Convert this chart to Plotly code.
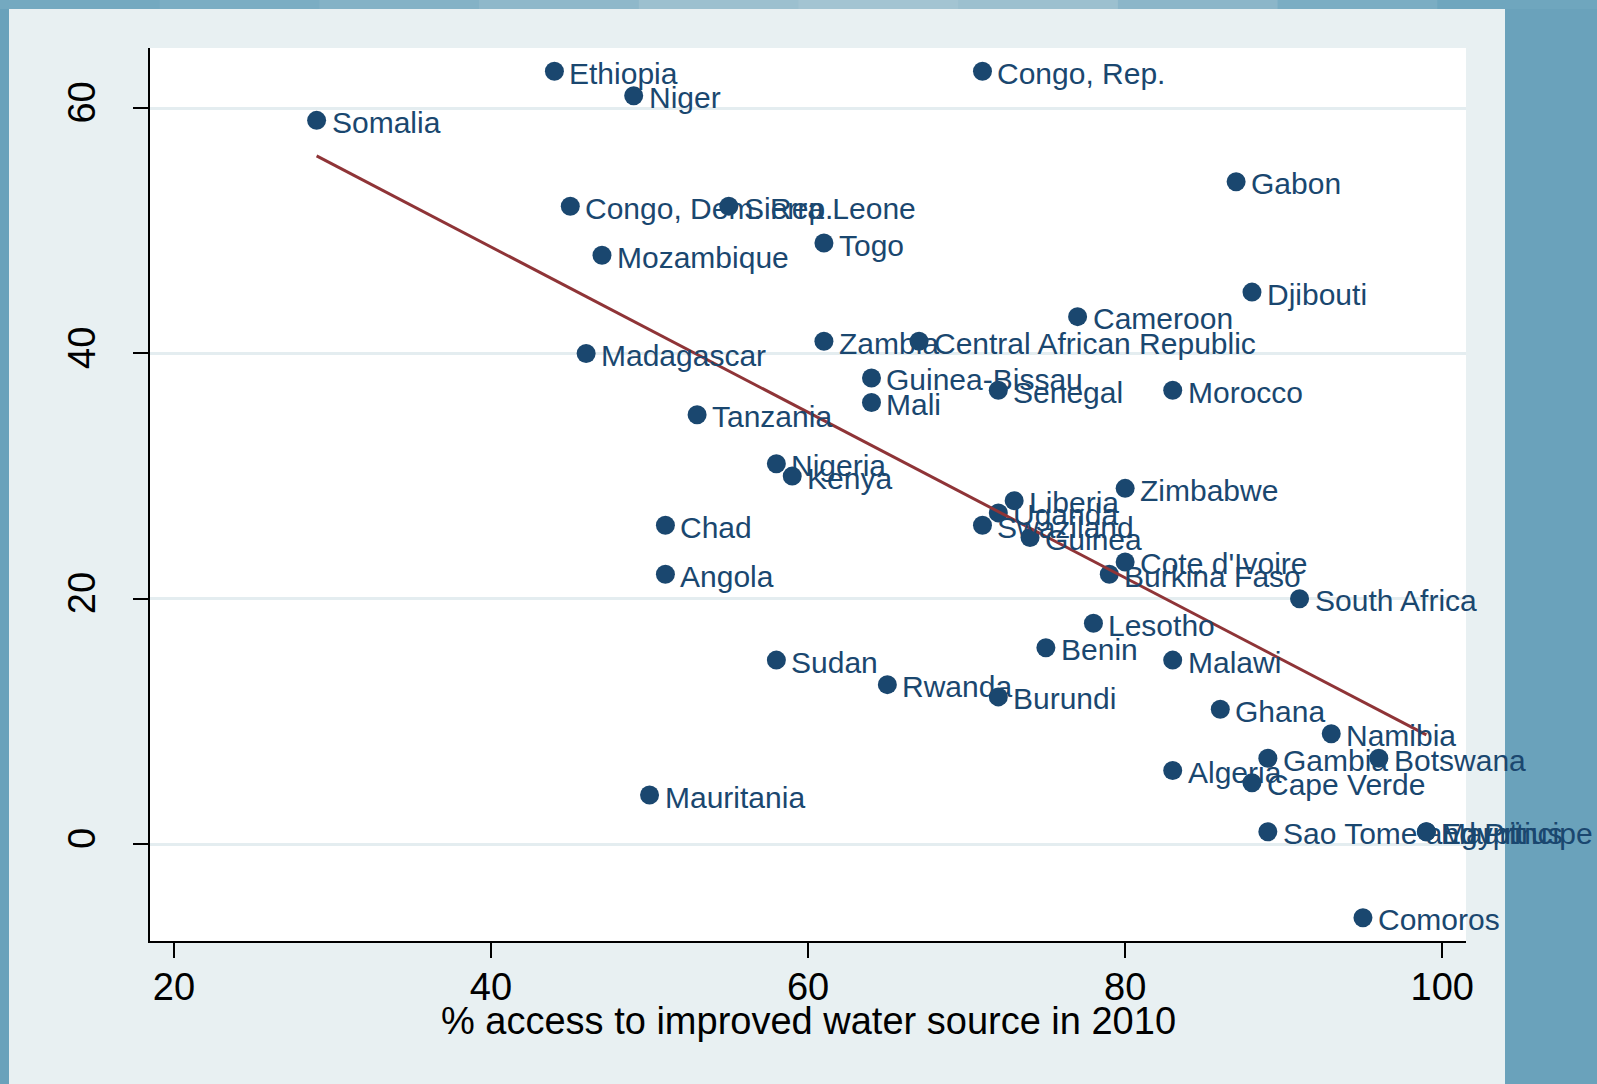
import plotly.graph_objects as go

# ---- data ----
countries = ["Ethiopia", "Congo, Rep.", "Niger", "Somalia", "Gabon", "Congo, Dem. Rep.",
             "Sierra Leone", "Togo", "Mozambique", "Djibouti", "Cameroon", "Zambia",
             "Central African Republic", "Madagascar", "Guinea-Bissau", "Senegal", "Morocco",
             "Mali", "Tanzania", "Nigeria", "Kenya", "Zimbabwe", "Liberia", "Uganda", "Chad",
             "Swaziland", "Guinea", "Cote d'Ivoire", "Angola", "Burkina Faso", "South Africa",
             "Lesotho", "Benin", "Sudan", "Malawi", "Rwanda", "Burundi", "Ghana", "Namibia",
             "Gambia", "Botswana", "Algeria", "Cape Verde", "Mauritania",
             "Sao Tome and Principe", "Egypt", "Mauritius", "Comoros"]
water_access = [44, 71, 49, 29, 87, 45,
                55, 61, 47, 88, 77, 61,
                67, 46, 64, 72, 83,
                64, 53, 58, 59, 80, 73, 72, 51,
                71, 74, 80, 51, 79, 91,
                78, 75, 58, 83, 65, 72, 86, 93,
                89, 96, 83, 88, 50,
                89, 99, 99, 95]
y_values = [63, 63, 61, 59, 54, 52,
            52, 49, 48, 45, 43, 41,
            41, 40, 38, 37, 37,
            36, 35, 31, 30, 29, 28, 27, 26,
            26, 25, 23, 22, 22, 20,
            18, 16, 15, 15, 13, 12, 11, 9,
            7, 7, 6, 5, 4,
            1, 1, 1, -6]

fit_x = [29, 99]
fit_y = [56.1, 8.9]

x_ticks = [20, 40, 60, 80, 100]
y_ticks = [0, 20, 40, 60]
x_title = "% access to improved water source in 2010"

# ---- styling ----
W, H = 1597, 1084
L, R, T, B = 150, 131, 48, 143
PW, PH = W - L - R, H - T - B

navy = "#1a476f"
font = "Liberation Sans, Arial, Helvetica, sans-serif"


def px_x(p):
    return (p - L) / PW


def px_y(p):
    return (H - B - p) / PH


fig = go.Figure()
# markers
fig.add_trace(go.Scatter(
    x=water_access, y=y_values, text=countries, mode="markers",
    cliponaxis=False, marker=dict(size=19, color=navy),
    showlegend=False, hoverinfo="x+y+text",
))
# fitted line
fig.add_trace(go.Scatter(
    x=fit_x, y=fit_y, mode="lines",
    line=dict(color="#8f3437", width=3),
    showlegend=False, hoverinfo="skip",
))

# marker labels
annotations = [
    dict(x=xv, y=yv, text=name, xref="x", yref="y", showarrow=False,
         xanchor="left", yanchor="middle", xshift=13, yshift=-2,
         font=dict(family=font, size=30, color=navy))
    for xv, yv, name in zip(water_access, y_values, countries)
]
# x-axis title
annotations.append(dict(
    x=0.5, y=px_y(1021), xref="paper", yref="paper", showarrow=False,
    xanchor="center", yanchor="middle", text=x_title,
    font=dict(family=font, size=38, color="black"),
))

shapes = []
# top gradient strip imitation
top_cols = ["#74a9c0", "#7badc3", "#84b2c6", "#8fb8ca", "#9cc0cf", "#a3c4d2",
            "#9cc0cf", "#8cb6c9", "#7badc3", "#6fa6be"]
n = len(top_cols)
for i, c in enumerate(top_cols):
    shapes.append(dict(type="rect", xref="paper", yref="paper",
                       x0=px_x(i * W / n), x1=px_x((i + 1) * W / n + 1),
                       y0=px_y(9), y1=px_y(-2), fillcolor=c, line_width=0, layer="below"))
# light panel
shapes.append(dict(type="rect", xref="paper", yref="paper",
                   x0=px_x(9), x1=px_x(1505), y0=px_y(H + 5), y1=px_y(9),
                   fillcolor="#e8f0f2", line_width=0, layer="below"))
# white plot region
shapes.append(dict(type="rect", xref="paper", yref="paper",
                   x0=0, x1=1, y0=0, y1=1,
                   fillcolor="white", line_width=0, layer="below"))

fig.update_layout(
    width=W, height=H,
    margin=dict(l=L, r=R, t=T, b=B, pad=0),
    paper_bgcolor="#6aa2bb",
    plot_bgcolor="white",
    shapes=shapes,
    annotations=annotations,
    font=dict(family=font, color="black"),
    xaxis=dict(
        range=[18.49, 101.5], tickvals=x_ticks, ticktext=[str(v) for v in x_ticks],
        ticks="outside", ticklen=15, tickwidth=1.5, tickcolor="black",
        showline=True, linecolor="black", linewidth=2, mirror=False,
        showgrid=False, zeroline=False,
        tickfont=dict(family=font, size=38, color="black"),
        ticklabelstandoff=-4,
    ),
    yaxis=dict(
        range=[-7.9, 64.9], tickvals=y_ticks, ticktext=[str(v) for v in y_ticks],
        ticks="outside", ticklen=15, tickwidth=1.5, tickcolor="black", tickangle=-90,
        showline=True, linecolor="black", linewidth=2, mirror=False,
        showgrid=True, gridcolor="#e4edf0", gridwidth=3, zeroline=False,
        tickfont=dict(family=font, size=38, color="black"),
        ticklabelstandoff=23,
    ),
)

fig.write_html(
    "out.html",
    config={"displayModeBar": False},
    post_script="document.body.style.margin='0';document.body.style.padding='0';",
)
